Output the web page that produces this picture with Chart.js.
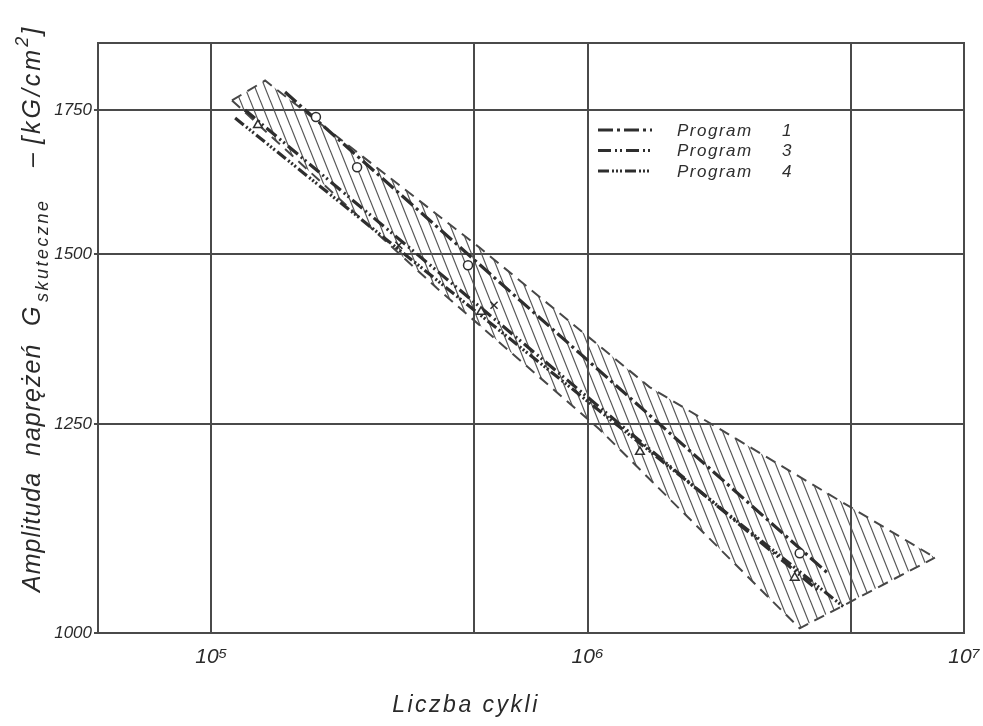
<!DOCTYPE html>
<html>
<head>
<meta charset="utf-8">
<script src="https://cdn.jsdelivr.net/npm/chart.js@4.4.1/dist/chart.umd.min.js"></script>
<style>
  html, body { margin: 0; padding: 0; background: #fff; }
  #wrap { width: 983px; height: 726px; }
</style>
</head>
<body>
<div id="wrap"><canvas id="chart" width="983" height="726"></canvas></div>
<script>
// axis ticks
const xTicks = [1e5, 5e5, 1e6, 5e6, 1e7];
const xLabels = ['10⁵', '', '10⁶', '', '10⁷'];
const yTicks = [1000, 1250, 1500, 1750];

// scatter band (hatched region), upper and lower edge
const bandUpperX = [1.135e5, 1.39e5, 5.17e5, 1.46e6, 8.37e6];
const bandUpperY = [1768, 1806, 1510, 1301, 1084];
const bandLowerX = [1.135e5, 3.98e5, 1.078e6, 3.66e6, 8.37e6];
const bandLowerY = [1768, 1446, 1243, 1005, 1084];

// fatigue lines
const prog1X = [1.57e5, 4.40e6];
const prog1Y = [1784, 1064];
const prog3X = [1.229e5, 4.14e6];
const prog3Y = [1750, 1045];
const prog4X = [1.157e5, 4.83e6];
const prog4Y = [1735, 1027];

// test points
const circX = [1.897e5, 2.44e5, 4.81e5, 3.66e6];
const circY = [1737, 1646, 1482, 1089];
const triX = [1.33e5, 5.21e5, 1.377e6, 3.55e6];
const triY = [1722, 1410, 1214, 1061];
const crossX = [3.15e5, 5.64e5];
const crossY = [1514, 1420];

const seriesNames = ['Program 1', 'Program 3', 'Program 4'];

const ink = '#2e2e2e';
const gridInk = '#4a4a4a';
const dash1 = [15, 4, 3, 4];
const dash3 = [13, 4, 2, 3, 2, 4];
const dash4 = [11, 3, 2, 2, 2, 2, 2, 3];

const pts = (xs, ys) => xs.map((x, i) => ({ x: x, y: ys[i] }));

function hatch() {
  const c = document.createElement('canvas');
  c.width = 10; c.height = 25;
  const g = c.getContext('2d');
  g.strokeStyle = '#555';
  g.lineWidth = 1.2;
  for (let k = -1; k <= 1; k++) {
    g.beginPath();
    g.moveTo(k * 10, 0);
    g.lineTo(k * 10 + 10, 25);
    g.stroke();
  }
  return g.createPattern(c, 'repeat');
}

const frame = {
  id: 'frame',
  afterDraw(chart) {
    const { ctx, chartArea: a } = chart;
    ctx.save();
    ctx.strokeStyle = gridInk;
    ctx.lineWidth = 2;
    ctx.strokeRect(a.left, a.top, a.right - a.left, a.bottom - a.top);
    ctx.restore();
  }
};

const legendBox = {
  id: 'legendBox',
  afterDraw(chart) {
    const ctx = chart.ctx;
    const dashes = [dash1, dash3, dash4];
    ctx.save();
    seriesNames.forEach((name, i) => {
      const y = 130 + i * 20.5;
      ctx.strokeStyle = ink;
      ctx.lineWidth = 3;
      ctx.setLineDash(dashes[i]);
      ctx.beginPath();
      ctx.moveTo(598, y);
      ctx.lineTo(652, y);
      ctx.stroke();
      ctx.setLineDash([]);
      ctx.fillStyle = ink;
      ctx.font = 'italic 17px "Liberation Sans"';
      ctx.letterSpacing = '1.5px';
      ctx.textBaseline = 'middle';
      const parts = name.split(' ');
      ctx.fillText(parts[0], 677, y + 1);
      ctx.fillText(parts[1], 782, y + 1);
    });
    ctx.restore();
  }
};

const titles = {
  id: 'titles',
  afterDraw(chart) {
    const ctx = chart.ctx;
    ctx.save();
    ctx.fillStyle = '#2a2a2a';
    ctx.font = 'italic 23px "Liberation Sans"';
    ctx.letterSpacing = '2.5px';
    ctx.textAlign = 'center';
    ctx.textBaseline = 'alphabetic';
    ctx.fillText('Liczba cykli', 466, 712);

    // rotated y title, pieces placed along the axis (offsets from bottom)
    ctx.translate(40, 592);
    ctx.rotate(-Math.PI / 2);
    ctx.textAlign = 'left';
    const main = 'italic 25px "Liberation Sans"';
    const small = 'italic 18px "Liberation Sans"';
    const put = (t, font, spacing, at, dy) => {
      ctx.font = font;
      ctx.letterSpacing = spacing;
      ctx.fillText(t, at, dy);
      return at + ctx.measureText(t).width;
    };
    put('Amplituda  naprężeń', main, '1px', 0, 0);
    put('G', main, '0px', 266, 0);
    put('skuteczne', small, '2.5px', 290, 8);
    put('–', main, '0px', 425, 0);
    const e = put('[kG/cm', main, '3px', 448, 0);
    const e2 = put('2', small, '0px', e, -12);
    put(']', main, '0px', e2 + 2, 0);
    ctx.restore();
  }
};

const ctx = document.getElementById('chart');
new Chart(ctx, {
  type: 'line',
  data: {
    datasets: [
      { data: pts(bandUpperX, bandUpperY), borderColor: '#474747', borderWidth: 2, borderDash: [11, 7], pointRadius: 0, fill: false, order: 10 },
      { data: pts(bandLowerX, bandLowerY), borderColor: '#474747', borderWidth: 2, borderDash: [11, 7], pointRadius: 0, fill: '-1', backgroundColor: hatch(), order: 10 },
      { label: seriesNames[0], data: pts(prog1X, prog1Y), borderColor: ink, borderWidth: 3.2, borderDash: dash1, pointRadius: 0, order: 5 },
      { label: seriesNames[1], data: pts(prog3X, prog3Y), borderColor: ink, borderWidth: 3.2, borderDash: dash3, pointRadius: 0, order: 5 },
      { label: seriesNames[2], data: pts(prog4X, prog4Y), borderColor: ink, borderWidth: 3.2, borderDash: dash4, pointRadius: 0, order: 5 },
      { data: pts(circX, circY), showLine: false, pointStyle: 'circle', pointRadius: 4.5, borderColor: ink, borderWidth: 1.5, backgroundColor: '#fff', order: 1 },
      { data: pts(triX, triY), showLine: false, pointStyle: 'triangle', pointRadius: 5, borderColor: ink, borderWidth: 1.5, backgroundColor: '#fff', order: 1 },
      { data: pts(crossX, crossY), showLine: false, pointStyle: 'crossRot', pointRadius: 5, borderColor: ink, borderWidth: 1.5, order: 1 }
    ]
  },
  options: {
    responsive: false,
    animation: false,
    layout: { padding: { top: 43, right: 19, left: 0, bottom: 0 } },
    plugins: { legend: { display: false }, tooltip: { enabled: false } },
    scales: {
      x: {
        type: 'logarithmic',
        min: 5e4,
        max: 1e7,
        afterBuildTicks: s => { s.ticks = xTicks.map(v => ({ value: v })); },
        afterFit: s => { s.height = 93; s.paddingLeft = 0; s.paddingRight = 0; },
        grid: { color: gridInk, lineWidth: 2, drawTicks: false },
        border: { color: gridInk, width: 2 },
        ticks: {
          callback: v => xLabels[xTicks.indexOf(v)],
          font: { family: 'Liberation Sans', size: 21, style: 'italic' },
          color: '#2a2a2a',
          padding: 12,
          maxRotation: 0,
          autoSkip: false
        }
      },
      y: {
        type: 'logarithmic',
        min: 1000,
        max: 1880,
        afterBuildTicks: s => { s.ticks = yTicks.map(v => ({ value: v })); },
        afterFit: s => { s.width = 98; s.paddingTop = 0; s.paddingBottom = 0; },
        grid: { color: gridInk, lineWidth: 2, tickLength: 4 },
        border: { color: gridInk, width: 2 },
        ticks: {
          callback: v => String(v),
          font: { family: 'Liberation Sans', size: 17, style: 'italic' },
          color: '#2a2a2a',
          padding: 2,
          autoSkip: false
        }
      }
    }
  },
  plugins: [frame, legendBox, titles]
});
</script>
</body>
</html>
